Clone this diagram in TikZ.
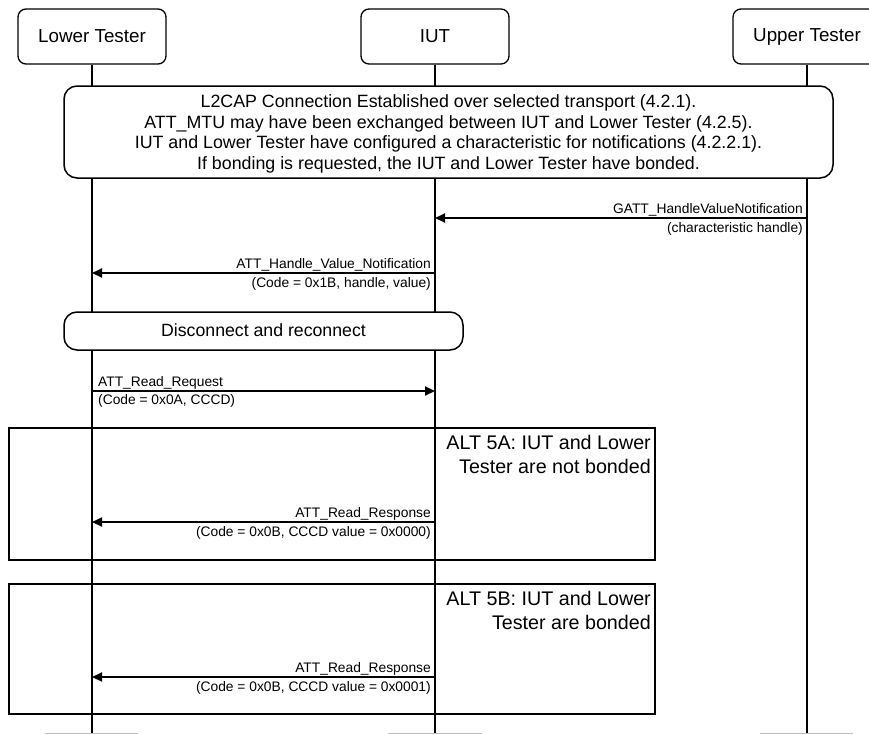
\documentclass[tikz,border=0pt]{standalone}
\usepackage{fontspec}
\setmainfont{Liberation Sans}
\usetikzlibrary{arrows.meta}
\begin{document}
\begin{tikzpicture}[x=1pt,y=-1pt,
  actor/.style={draw,line width=1.3pt,rounded corners=8pt,minimum width=148pt,minimum height=55pt,inner sep=0pt,font=\fontsize{18.8}{22}\selectfont,fill=white},
  lifeline/.style={line width=1.5pt},
  notebox/.style={draw,line width=1.5pt,fill=white},
  altbox/.style={draw,line width=2pt},
  msg/.style={line width=2pt,-{Triangle[length=10pt,width=9pt]}},
  lbl/.style={inner sep=0pt,font=\fontsize{13.8}{16}\selectfont},
  alttext/.style={inner sep=0pt,align=right,font=\fontsize{19.7}{24}\selectfont},
  foot/.style={line width=1pt,draw=black!25}
]
\useasboundingbox (0,0) rectangle (869,734);
% actors
\node[actor] (lt) at (92,36.5) {Lower Tester};
\node[actor] (iut) at (435,36.5) {IUT};
\node[actor] (ut) at (807,36.5) {Upper Tester};
\coordinate (ltend) at (92,734);
\coordinate (iutend) at (435,734);
\coordinate (utend) at (807,734);
\draw[lifeline] (lt.south) -- (ltend);
\draw[lifeline] (iut.south) -- (iutend);
\draw[lifeline] (ut.south) -- (utend);
% footer stubs
\draw[foot] (45,733.5) -- (138,733.5);
\draw[foot] (388,733.5) -- (482,733.5);
\draw[foot] (760,733.5) -- (853,733.5);
% preamble box
\draw[notebox,rounded corners=13pt] (64,86) rectangle (833,178);
\node[inner sep=0pt,align=center,font=\fontsize{17.8}{20.7}\selectfont] (pre) at (448.5,134)
 {L2CAP Connection Established over selected transport (4.2.1).\\
  ATT\_MTU may have been exchanged between IUT and Lower Tester (4.2.5).\\
  IUT and Lower Tester have configured a characteristic for notifications (4.2.2.1).\\
  If bonding is requested, the IUT and Lower Tester have bonded.};
% message 1
\coordinate (m1s) at (807,218);
\coordinate (m1e) at (435,218);
\draw[msg] (m1s) -- (m1e);
\node[lbl,anchor=base east] (m1a) at (803,213) {GATT\_HandleValueNotification};
\node[lbl,anchor=base east] (m1b) at (803,232) {(characteristic handle)};
% message 2
\coordinate (m2s) at (435,273);
\coordinate (m2e) at (92,273);
\draw[msg] (m2s) -- (m2e);
\node[lbl,anchor=base east] (m2a) at (431,268) {ATT\_Handle\_Value\_Notification};
\node[lbl,anchor=base east] (m2b) at (431,287) {(Code = 0x1B, handle, value)};
% disconnect
\draw[notebox,rounded corners=13pt] (64,312) rectangle (463,350);
\node[inner sep=0pt,font=\fontsize{17.7}{20}\selectfont] (dis) at (263.5,330) {Disconnect and reconnect};
% message 3
\coordinate (m3s) at (92,391);
\coordinate (m3e) at (435,391);
\draw[msg] (m3s) -- (m3e);
\node[lbl,anchor=base west] (m3a) at (98,386) {ATT\_Read\_Request};
\node[lbl,anchor=base west] (m3b) at (98,404) {(Code = 0x0A, CCCD)};
% ALT 5A
\draw[altbox] (9,428) rectangle (655,560);
\node[alttext,anchor=north east] (a5a) at (651,435) {ALT 5A: IUT and Lower\\Tester are not bonded};
\coordinate (m4s) at (435,522);
\coordinate (m4e) at (92,522);
\draw[msg] (m4s) -- (m4e);
\node[lbl,anchor=base east] (m4a) at (431,517) {ATT\_Read\_Response};
\node[lbl,anchor=base east] (m4b) at (431,536) {(Code = 0x0B, CCCD value = 0x0000)};
% ALT 5B
\draw[altbox] (9,584) rectangle (655,714);
\node[alttext,anchor=north east] (a5b) at (651,591) {ALT 5B: IUT and Lower\\Tester are bonded};
\coordinate (m5s) at (435,677);
\coordinate (m5e) at (92,677);
\draw[msg] (m5s) -- (m5e);
\node[lbl,anchor=base east] (m5a) at (431,672) {ATT\_Read\_Response};
\node[lbl,anchor=base east] (m5b) at (431,691) {(Code = 0x0B, CCCD value = 0x0001)};
\end{tikzpicture}
\end{document}
